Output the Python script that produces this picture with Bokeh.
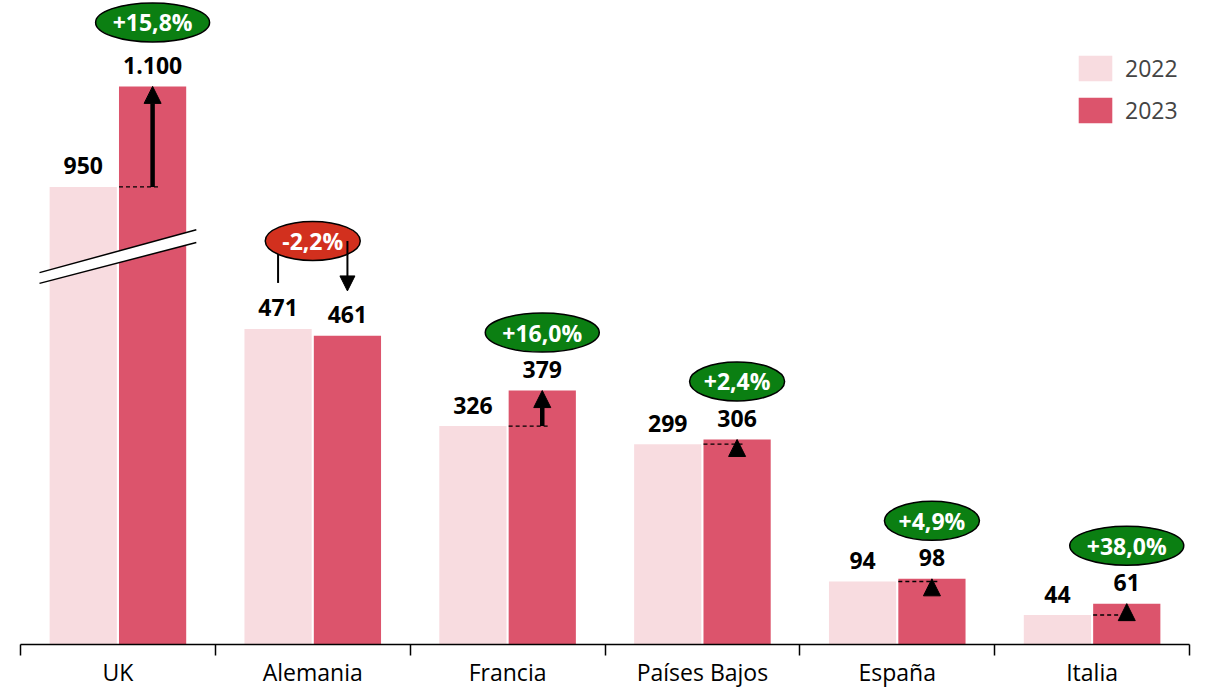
from bokeh.plotting import figure
from bokeh.models import (Range1d, FixedTicker, CustomJSTickFormatter, Arrow,
                          NormalHead, Legend, LegendItem, ColumnDataSource)
from bokeh.embed import file_html
from bokeh.resources import INLINE
from bokeh.core.properties import value

# ---------------- data ----------------
categories = ["UK", "Alemania", "Francia", "Países Bajos", "España", "Italia"]
series = ["2022", "2023"]
values_2022 = [950, 471, 326, 299, 94, 44]
values_2023 = [1100, 461, 379, 306, 98, 61]
change_labels = ["+15,8%", "-2,2%", "+16,0%", "+2,4%", "+4,9%", "+38,0%"]

# ---------------- style / layout ----------------
C22 = "#f8dce0"
C23 = "#dc546c"
GREEN = "#0b7f12"
RED = "#d2301e"
FONT = "Open Sans"
BREAK_CAT = 0          # category drawn with a broken axis
BREAK_AMOUNT = 267     # units removed by the axis break
PX = 0.670             # screen px per unit
FRAME_H = 644
BW = 0.345             # bar width (category units)
OFF = 0.178            # bar offset from category centre


def fmt(v):
    return f"{v:,}".replace(",", ".")


def shown(i, v):
    return v - BREAK_AMOUNT if i == BREAK_CAT else v


def up(y, px):
    return y + px / PX


n = len(categories)
centers = [i + 0.5 for i in range(n)]
x22 = [c - OFF for c in centers]
x23 = [c + OFF for c in centers]
d22 = [shown(i, v) for i, v in enumerate(values_2022)]
d23 = [shown(i, v) for i, v in enumerate(values_2023)]

p = figure(width=1205, height=690, output_backend="svg", toolbar_location=None,
           x_range=Range1d(0, n), y_range=Range1d(0, FRAME_H / PX),
           y_axis_location=None, min_border_left=20, min_border_right=16,
           min_border_top=0, min_border_bottom=46)
p.xgrid.visible = False
p.ygrid.visible = False
p.outline_line_color = None
p.background_fill_color = "white"

# axis
ax = p.xaxis[0]
ax.ticker = FixedTicker(ticks=centers, minor_ticks=list(range(n + 1)))
ax.formatter = CustomJSTickFormatter(args=dict(names=categories),
                                     code="return names[Math.floor(tick)];")
ax.major_tick_out = 0
ax.major_tick_in = 0
ax.minor_tick_out = 11
ax.minor_tick_in = 0
ax.minor_tick_line_color = "black"
ax.minor_tick_line_width = 1.5
ax.axis_line_color = "black"
ax.axis_line_width = 1.5
ax.major_label_text_font = FONT
ax.major_label_text_font_size = "23px"
ax.major_label_text_color = "black"
ax.major_label_standoff = 0

# bars
src22 = ColumnDataSource(dict(x=x22, top=d22, lab=[fmt(v) for v in values_2022]))
src23 = ColumnDataSource(dict(x=x23, top=d23, lab=[fmt(v) for v in values_2023]))
r22 = p.vbar(x="x", top="top", width=BW, source=src22, fill_color=C22, line_color=None)
r23 = p.vbar(x="x", top="top", width=BW, source=src23, fill_color=C23, line_color=None)

# axis break on UK
bc = centers[BREAK_CAT]
bx = [bc - 0.4025, bc + 0.4025]
upper_y = [555, 619]
lower_y = [539, 600]
p.patch(x=[bx[0], bx[1], bx[1], bx[0]], y=[upper_y[0], upper_y[1], lower_y[1], lower_y[0]],
        fill_color="white", line_color=None)
p.line(x=bx, y=upper_y, line_color="black", line_width=1.5)
p.line(x=bx, y=lower_y, line_color="black", line_width=1.5)

# value labels
for src in (src22, src23):
    p.text(x="x", y="top", text="lab", source=src, y_offset=-21,
           text_align="center", text_baseline="middle",
           text_font=value(FONT), text_font_style="bold",
           text_font_size="23px", text_color="black")

# change indicators
bxs, bys, bws, bcols = [], [], [], []
for i in range(n):
    a, b = d22[i], d23[i]
    if values_2023[i] >= values_2022[i]:
        p.segment(x0=[x23[i] - BW / 2], x1=[x23[i] + 0.04], y0=[a], y1=[a],
                  line_color="black", line_width=1.4, line_dash="4 3")
        p.add_layout(Arrow(x_start=x23[i], y_start=a, x_end=x23[i], y_end=b,
                           line_width=4.5, line_color="black",
                           end=NormalHead(size=17, fill_color="black",
                                          line_color="black", line_width=1)))
        bxs.append(x23[i])
        bys.append(up(b, 64 if i == BREAK_CAT else 58))
        bcols.append(GREEN)
    else:
        top = max(a, b)
        by = up(top, 88)
        p.segment(x0=[x22[i]], x1=[x22[i]], y0=[by], y1=[up(a, 46)],
                  line_color="black", line_width=2)
        p.add_layout(Arrow(x_start=x23[i], y_start=by, x_end=x23[i], y_end=up(a, 38),
                           line_width=2, line_color="black",
                           end=NormalHead(size=15, fill_color="black",
                                          line_color="black", line_width=1)))
        bxs.append(centers[i])
        bys.append(by)
        bcols.append(RED)
    bws.append(19 * len(change_labels[i]))

bsrc = ColumnDataSource(dict(x=bxs, y=bys, w=bws, c=bcols, t=change_labels))
p.ellipse(x="x", y="y", width="w", height=39, width_units="screen",
          height_units="screen", source=bsrc, fill_color="c",
          line_color="black", line_width=1.5)
p.text(x="x", y="y", text="t", source=bsrc, text_align="center",
       text_baseline="middle", text_font=value(FONT), text_font_style="bold",
       text_font_size="23px", text_color="white")

# legend
legend = Legend(items=[LegendItem(label=series[0], renderers=[r22]),
                       LegendItem(label=series[1], renderers=[r23])],
                location=(1054, 518), orientation="vertical",
                glyph_width=42, glyph_height=32, label_height=32,
                label_standoff=9, spacing=10, padding=0, margin=0,
                label_text_font=FONT, label_text_font_size="23px",
                label_text_baseline="middle",
                background_fill_alpha=0, border_line_color=None)
p.add_layout(legend, "center")

open("out.html", "w").write(file_html(p, INLINE))
